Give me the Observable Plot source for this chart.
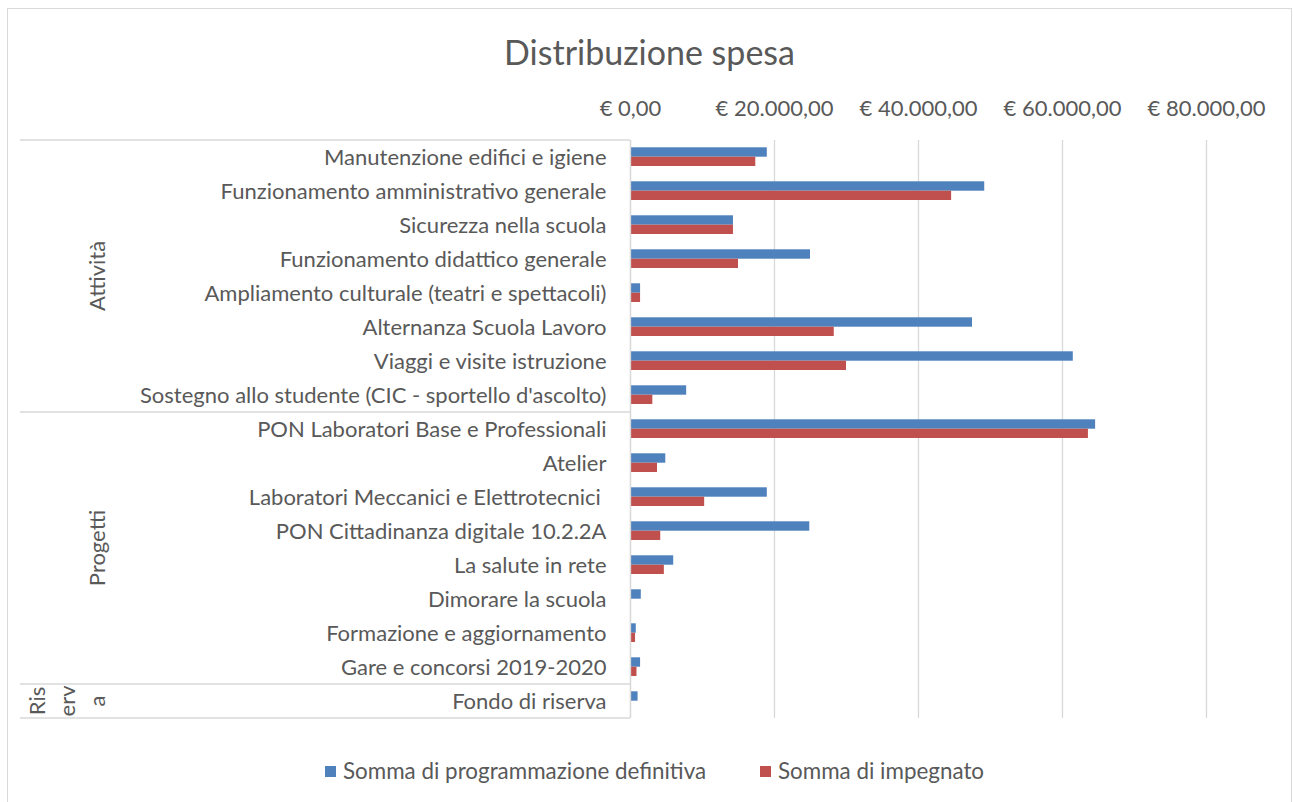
<!DOCTYPE html>
<html><head><meta charset="utf-8">
<script src="https://cdn.jsdelivr.net/npm/d3@7"></script>
<script src="https://cdn.jsdelivr.net/npm/@observablehq/plot@0.6"></script>
<style>
html,body{margin:0;padding:0;background:#fff;}
#wrap{position:relative;width:1293px;height:802px;overflow:hidden;font-family:Lato,"Open Sans",sans-serif;color:#595959;}
#wrap svg{position:absolute;left:0;top:0;}
#frame{position:absolute;left:7px;top:8px;width:1285px;height:802px;border:1px solid #d9d9d9;box-sizing:border-box;pointer-events:none;}
#title{position:absolute;left:7px;width:1285px;top:32px;text-align:center;font-size:34px;line-height:40px;}
.leg{position:absolute;top:760px;font-size:22.4px;line-height:22px;white-space:nowrap;display:flex;align-items:center;}
.sw{display:inline-block;width:11px;height:11px;margin-right:7px;}
</style>
</head><body>
<div id="wrap">
  <div id="title"></div>
  <div id="chart"></div>
  <div id="legend"></div>
  <div id="frame"></div>
</div>
<script>
const titleText = "Distribuzione spesa";
const categories = [
  "Manutenzione edifici e igiene",
  "Funzionamento amministrativo generale",
  "Sicurezza nella scuola",
  "Funzionamento didattico generale",
  "Ampliamento culturale (teatri e spettacoli)",
  "Alternanza Scuola Lavoro",
  "Viaggi e visite istruzione",
  "Sostegno allo studente (CIC - sportello d'ascolto)",
  "PON Laboratori Base e Professionali",
  "Atelier",
  "Laboratori Meccanici e Elettrotecnici\u00a0",
  "PON Cittadinanza digitale 10.2.2A",
  "La salute in rete",
  "Dimorare la scuola",
  "Formazione e aggiornamento",
  "Gare e concorsi 2019-2020",
  "Fondo di riserva"
];
const categoryGroup = [
  "Attività","Attività","Attività","Attività","Attività","Attività","Attività","Attività",
  "Progetti","Progetti","Progetti","Progetti","Progetti","Progetti","Progetti","Progetti",
  "Riserva"
];
const groupNames = ["Attività", "Progetti", "Riserva"];
const groupLabelLines = [["Attività"], ["Progetti"], ["Ris", "erv", "a"]];
const programmazione = [19000, 49200, 14300, 25000, 1400, 47500, 61500, 7800, 64600, 4900, 19000, 24900, 6000, 1500, 800, 1400, 1050];
const impegnato      = [17400, 44600, 14300, 15000, 1400, 28300, 30000, 3100, 63600, 3750, 10300, 4200, 4700, 0, 700, 900, 0];
const seriesNames = ["Somma di programmazione definitiva", "Somma di impegnato"];
const seriesColors = ["#4F81BD", "#C0504D"];
const tickValues = [0, 20000, 40000, 60000, 80000];

const locale = d3.formatLocale({decimal: ",", thousands: ".", grouping: [3], currency: ["€ ", ""]});
const fmt = locale.format("$,.2f");

const rows = categories.map((c, i) => ({cat: c, prog: programmazione[i], imp: impegnato[i]}));
const textColor = "#595959";
const gridColor = "#d9d9d9";

const chart = Plot.plot({
  width: 1293, height: 802,
  marginTop: 140, marginBottom: 84, marginLeft: 630, marginRight: 87,
  style: {fontFamily: "Lato, 'Open Sans', sans-serif", fontSize: "22px", color: textColor, background: "transparent", overflow: "visible"},
  x: {domain: [0, 80000], axis: null},
  y: {domain: categories, padding: 0, axis: null},
  marks: [
    Plot.gridX(tickValues, {stroke: gridColor, strokeOpacity: 1, strokeWidth: 1.3}),
    Plot.axisX(tickValues, {anchor: "top", tickSize: 0, tickPadding: 25, tickFormat: fmt, fill: textColor, fontSize: 22, label: null}),
    Plot.axisY({tickSize: 0, tickPadding: 24, fill: textColor, fontSize: 22, label: null}),
    Plot.barX(rows, {x: "prog", y: "cat", fill: seriesColors[0], insetTop: 7.3, insetBottom: 17.3}),
    Plot.barX(rows, {x: "imp", y: "cat", fill: seriesColors[1], insetTop: 16.7, insetBottom: 8}),
    Plot.ruleX([0], {stroke: gridColor, strokeOpacity: 1, strokeWidth: 1.3})
  ]
});
document.getElementById("chart").appendChild(chart);

// category-axis group separators and group labels, positioned from Plot's scales
const ys = chart.scale("y");
const xs = chart.scale("x");
const bw = ys.bandwidth;
const x0 = xs.apply(0);
const svg = d3.select(chart);
const g = svg.append("g");
const lineLeft = 20;
const bounds = groupNames.map(name => {
  const cats = categories.filter((c, i) => categoryGroup[i] === name);
  return {name, top: ys.apply(cats[0]), bottom: ys.apply(cats[cats.length - 1]) + bw};
});
const edges = [bounds[0].top, ...bounds.map(b => b.bottom)];
edges.forEach(yv => {
  g.append("line").attr("x1", lineLeft).attr("x2", x0).attr("y1", yv).attr("y2", yv)
    .attr("stroke", gridColor).attr("stroke-width", 1.3);
});
const labelX = 97, lineStep = 30;
bounds.forEach((b, gi) => {
  const lines = groupLabelLines[gi];
  const cy = (b.top + b.bottom) / 2;
  lines.forEach((t, li) => {
    const lx = labelX - lineStep * (lines.length - 1 - li);
    g.append("text").text(t)
      .attr("transform", `translate(${lx},${cy}) rotate(-90)`)
      .attr("text-anchor", "middle").attr("dy", "0.35em")
      .attr("fill", textColor).attr("font-size", 22)
      .attr("font-family", "Lato, 'Open Sans', sans-serif");
  });
});

document.getElementById("title").textContent = titleText;
const legend = document.getElementById("legend");
const legendLeft = [325, 760];
seriesNames.forEach((n, i) => {
  const d = document.createElement("div");
  d.className = "leg";
  d.style.left = legendLeft[i] + "px";
  const s = document.createElement("span");
  s.className = "sw"; s.style.background = seriesColors[i];
  d.appendChild(s);
  d.appendChild(document.createTextNode(n));
  legend.appendChild(d);
});
</script>
</body></html>
